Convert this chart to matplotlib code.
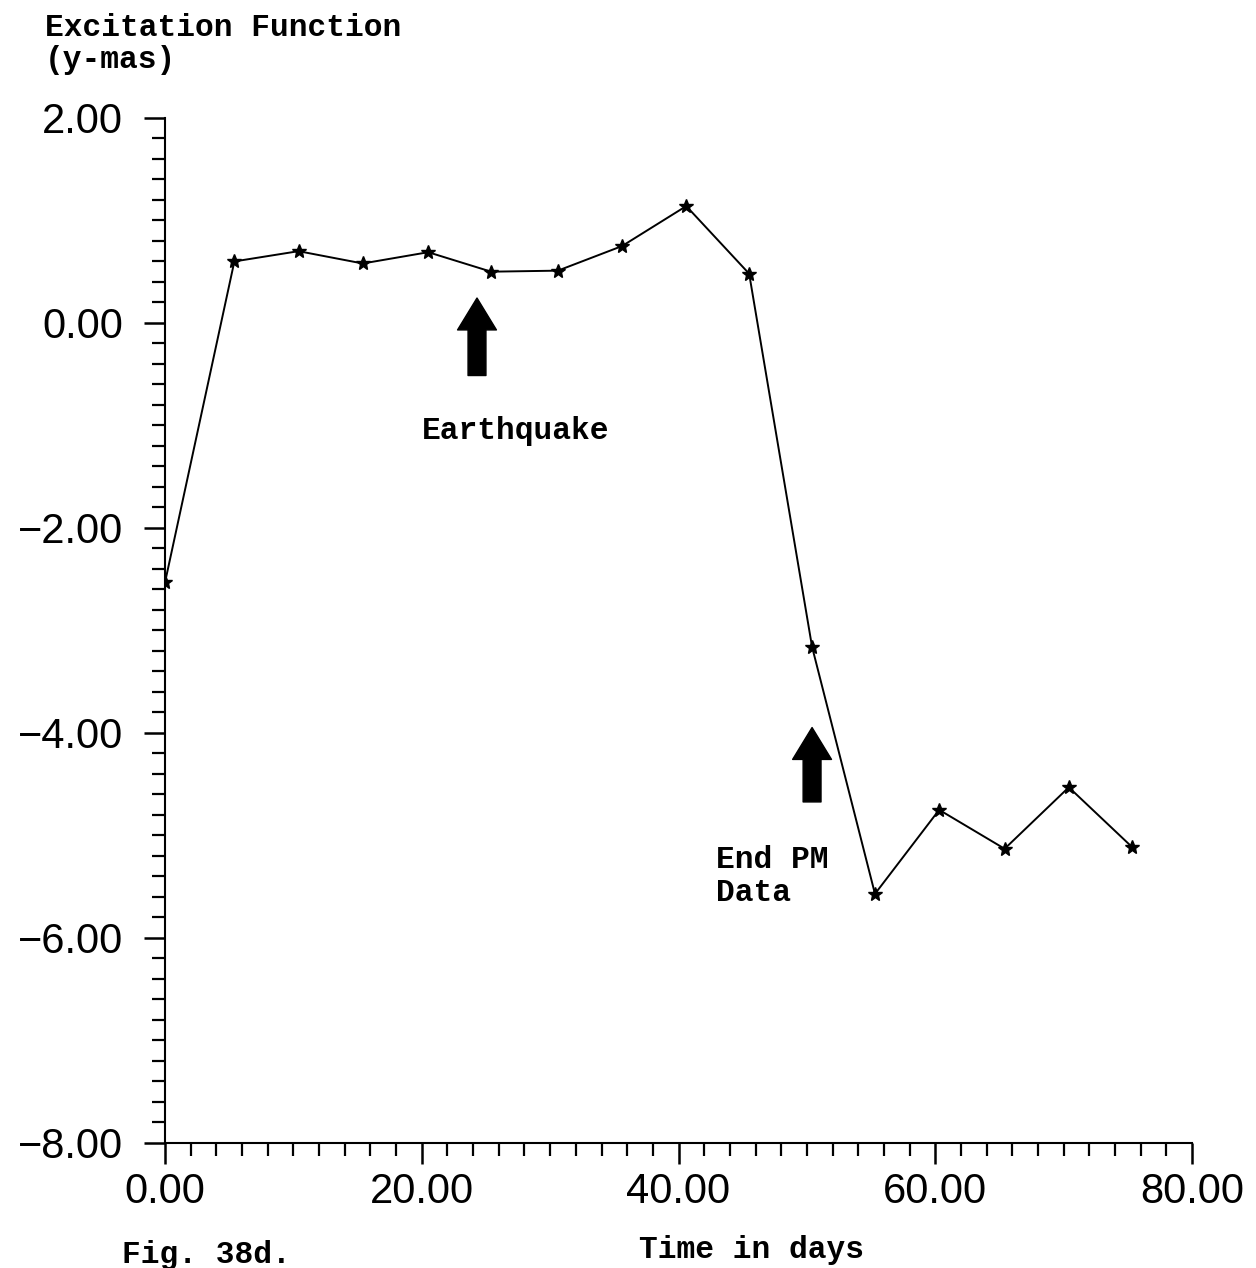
import numpy as np
import matplotlib.pyplot as plt
from matplotlib.ticker import MultipleLocator, FuncFormatter

# data
days = [0.0, 5.4, 10.4, 15.4, 20.5, 25.4, 30.6, 35.6, 40.6, 45.5,
        50.4, 55.3, 60.3, 65.4, 70.4, 75.3]
excitation = [-2.53, 0.60, 0.70, 0.58, 0.69, 0.50, 0.51, 0.75, 1.14, 0.48,
              -3.16, -5.57, -4.75, -5.13, -4.53, -5.11]

quake_day = 24.3
end_pm_day = 50.4

mono = 'Liberation Mono'
sans = 'Liberation Sans'

fig = plt.figure(figsize=(12.56, 12.68), dpi=100)
ax = fig.add_axes([0.1314, 0.0986, 0.8177, 0.8084])

ax.plot(days, excitation, color='black', linewidth=1.4, marker='*',
        markersize=10, markeredgewidth=1)

ax.set_xlim(0, 80)
ax.set_ylim(-8, 2)
ax.xaxis.set_major_locator(MultipleLocator(20))
ax.xaxis.set_minor_locator(MultipleLocator(2))
ax.yaxis.set_major_locator(MultipleLocator(2))
ax.yaxis.set_minor_locator(MultipleLocator(0.2))
fmt = FuncFormatter(lambda v, p: f'{v:.2f}'.replace('-', '\u2212'))
ax.xaxis.set_major_formatter(fmt)
ax.yaxis.set_major_formatter(fmt)

for s in ['top', 'right']:
    ax.spines[s].set_visible(False)
for s in ['left', 'bottom']:
    ax.spines[s].set_linewidth(1.5)

ax.tick_params(which='major', direction='out', length=15, width=1.8,
               labelsize=30)
ax.tick_params(which='minor', direction='out', length=9.5, width=1.6)
ax.tick_params(axis='y', which='major', pad=15)
ax.tick_params(axis='x', which='major', pad=6)
for lbl in ax.get_xticklabels() + ax.get_yticklabels():
    lbl.set_fontfamily(sans)

# arrows
arrow = dict(arrowstyle='simple,head_length=0.82,head_width=1.0,tail_width=0.46',
             color='black', mutation_scale=28)
ax.annotate('', xy=(quake_day, 0.27), xytext=(quake_day, -0.54), arrowprops=arrow)
ax.annotate('', xy=(end_pm_day, -3.92), xytext=(end_pm_day, -4.70), arrowprops=arrow)

ax.text(27.3, -1.05, 'Earthquake', fontfamily=mono, fontweight='bold',
        fontsize=22.5, ha='center', va='center')
ax.text(42.9, -5.40, 'End PM\nData', fontfamily=mono, fontweight='bold',
        fontsize=22.5, ha='left', va='center', linespacing=1.1)

fig.text(0.036, 0.99, 'Excitation Function\n(y-mas)', fontfamily=mono,
         fontweight='bold', fontsize=22.5, ha='left', va='top', linespacing=1.1)
fig.text(0.598, 0.014, 'Time in days', fontfamily=mono, fontweight='bold',
         fontsize=22.5, ha='center', va='center')
fig.text(0.097, 0.010, 'Fig. 38d.', fontfamily=mono, fontweight='bold',
         fontsize=22.5, ha='left', va='center')

fig.savefig('out.png', dpi=100)
